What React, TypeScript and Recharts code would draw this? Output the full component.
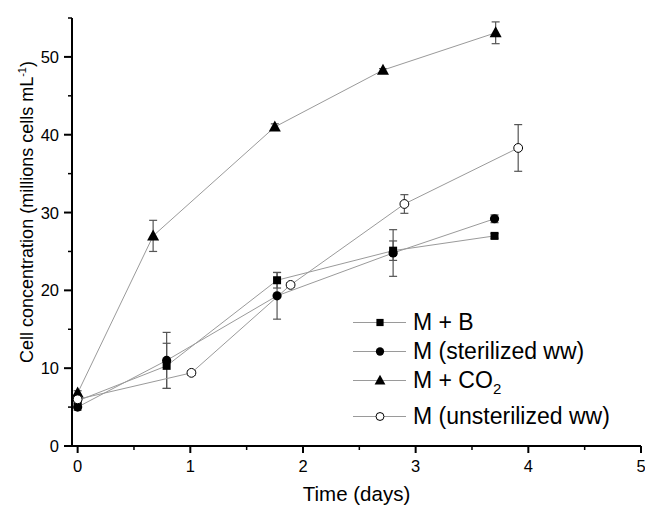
import React from 'react';
import { LineChart, Line, XAxis, YAxis, ErrorBar, Legend, Label } from 'recharts';

const FONT = '"Liberation Sans", Arial, Helvetica, sans-serif';

// ---- data ----
const seriesNames = ['M + B', 'M (sterilized ww)', 'M + CO2', 'M (unsterilized ww)'];

const mbDays = [0, 0.79, 1.77, 2.8, 3.7];
const mbCells = [5.8, 10.3, 21.3, 25.1, 27.0];
const mbErr = [0.3, 2.9, 1.0, 1.25, 0.3];

const msDays = [0, 0.79, 1.77, 2.8, 3.7];
const msCells = [5.0, 11.0, 19.3, 24.8, 29.2];
const msErr = [0.4, 3.6, 3.0, 3.0, 0.5];

const mcDays = [0, 0.67, 1.75, 2.71, 3.71];
const mcCells = [6.8, 27.0, 41.0, 48.3, 53.1];
const mcErr = [0.3, 2.0, 0.4, 0.2, 1.4];

const muDays = [0, 1.01, 1.89, 2.9, 3.91];
const muCells = [6.0, 9.4, 20.7, 31.1, 38.3];
const muErr = [0.3, 0.3, 0.3, 1.2, 3.0];

const xTicks = [0, 0.5, 1, 1.5, 2, 2.5, 3, 3.5, 4, 4.5, 5];
const xMajor = [0, 1, 2, 3, 4, 5];
const yTicks = [0, 5, 10, 15, 20, 25, 30, 35, 40, 45, 50, 55];
const yMajor = [0, 10, 20, 30, 40, 50];

const xLabel = 'Time (days)';
const yLabel = 'Cell concentration (millions cells mL';

const zip = (d: number[], c: number[], e: number[]) =>
  d.map((day, i) => ({ day, cells: c[i], err: e[i] }));

const mbData = zip(mbDays, mbCells, mbErr);
const msData = zip(msDays, msCells, msErr);
const mcData = zip(mcDays, mcCells, mcErr);
const muData = zip(muDays, muCells, muErr);

// ---- markers ----
type Kind = 'square' | 'circle' | 'triangle' | 'open';
const kinds: Kind[] = ['square', 'circle', 'triangle', 'open'];

const Marker = ({ kind, cx, cy, s = 1 }: { kind: Kind; cx: number; cy: number; s?: number }) => {
  if (kind === 'square')
    return <rect x={cx - 4 * s} y={cy - 4 * s} width={8 * s} height={8 * s} fill="#000" />;
  if (kind === 'circle') return <circle cx={cx} cy={cy} r={4.6 * s} fill="#000" />;
  if (kind === 'triangle')
    return (
      <polygon
        points={`${cx},${cy - 6.5 * s} ${cx - 6 * s},${cy + 4.5 * s} ${cx + 6 * s},${cy + 4.5 * s}`}
        fill="#000"
      />
    );
  return <circle cx={cx} cy={cy} r={4.4 * s} fill="#fff" stroke="#000" strokeWidth={1} />;
};

const makeDot = (kind: Kind) => (props: any) => {
  const { cx, cy, index } = props;
  if (cx == null || cy == null) return <g key={`d-${kind}-${index}`} />;
  return (
    <g key={`d-${kind}-${index}`}>
      <Marker kind={kind} cx={cx} cy={cy} />
    </g>
  );
};

// ---- ticks ----
const TICK_FONT = 16.5;

const XTick = (props: any) => {
  const { x, y, payload } = props;
  const v = payload.value;
  const major = xMajor.includes(v);
  return (
    <g>
      <line x1={x} x2={x} y1={y} y2={y + (major ? 7 : 4)} stroke="#000" strokeWidth={major ? 2 : 1.5} />
      {major && (
        <text x={x} y={y + 26} textAnchor="middle" fontSize={TICK_FONT} fontFamily={FONT} fill="#000">
          {v}
        </text>
      )}
    </g>
  );
};

const YTick = (props: any) => {
  const { x, y, payload } = props;
  const v = payload.value;
  const major = yMajor.includes(v);
  return (
    <g>
      <line x1={x - (major ? 8 : 4)} x2={x} y1={y} y2={y} stroke="#000" strokeWidth={major ? 2 : 1.5} />
      {major && (
        <text x={x - 13} y={y + 6} textAnchor="end" fontSize={TICK_FONT} fontFamily={FONT} fill="#000">
          {v}
        </text>
      )}
    </g>
  );
};

const XLabelContent = (props: any) => {
  const vb = props.viewBox || {};
  return (
    <text x={vb.x + vb.width / 2} y={vb.y + 55} textAnchor="middle" fontSize={20.5} fontFamily={FONT} fill="#000">
      {xLabel}
    </text>
  );
};

const YLabelContent = (props: any) => {
  const vb = props.viewBox || {};
  const cx = vb.x + 33;
  const cy = vb.y + vb.height / 2 - 20;
  return (
    <text
      x={cx}
      y={cy}
      transform={`rotate(-90, ${cx}, ${cy})`}
      textAnchor="middle"
      fontSize={18}
      fontFamily={FONT}
      fill="#000"
    >
      {yLabel}
      <tspan dy={-7} fontSize={11}>-1</tspan>
      <tspan dy={7}>)</tspan>
    </text>
  );
};

// ---- legend ----
const LegendContent = (props: any) => {
  const payload = [...(props.payload || [])].sort(
    (a: any, b: any) => seriesNames.indexOf(a.value) - seriesNames.indexOf(b.value)
  );
  return (
    <div style={{ fontFamily: FONT, fontSize: 23, color: '#000' }}>
      {payload.map((p: any) => {
        const name: string = p.value;
        const kind = kinds[seriesNames.indexOf(name)] || 'square';
        const hasSub = name.endsWith('CO2');
        return (
          <div
            key={name}
            style={{ display: 'flex', alignItems: 'flex-start', height: hasSub ? 36 : 29, whiteSpace: 'nowrap' }}
          >
            <svg width={53} height={29} style={{ flex: 'none' }}>
              <line x1={0} x2={53} y1={14.5} y2={14.5} stroke="#9a9a9a" strokeWidth={1} />
              <Marker kind={kind} cx={27} cy={14.5} s={0.9} />
            </svg>
            <span style={{ marginLeft: 7, lineHeight: '29px', height: 29 }}>
              {hasSub ? (
                <>
                  {name.slice(0, -1)}
                  <span style={{ fontSize: 15, position: 'relative', top: 6 }}>2</span>
                </>
              ) : (
                name
              )}
            </span>
          </div>
        );
      })}
    </div>
  );
};

const LINE = '#9a9a9a';
const ERR = '#555';

export default function App() {
  return (
    <div style={{ position: 'absolute', left: 0, top: 0, background: '#fff' }}>
      <LineChart width={645} height={507} margin={{ top: 18, right: 4, bottom: 0, left: 0 }}>
        <XAxis
          dataKey="day"
          type="number"
          domain={[-0.05, 5]}
          ticks={xTicks}
          allowDataOverflow
          height={61}
          tickLine={false}
          tickSize={0}
          tickMargin={0}
          tick={<XTick />}
          axisLine={{ stroke: '#000', strokeWidth: 2 }}
          interval={0}
        >
          <Label content={<XLabelContent />} />
        </XAxis>
        <YAxis
          type="number"
          domain={[0, 55]}
          ticks={yTicks}
          allowDataOverflow
          width={72}
          tickLine={false}
          tickSize={0}
          tickMargin={0}
          tick={<YTick />}
          axisLine={{ stroke: '#000', strokeWidth: 2 }}
          interval={0}
        >
          <Label content={<YLabelContent />} />
        </YAxis>
        <Legend
          layout="horizontal"
          verticalAlign="middle"
          align="center"
          content={<LegendContent />}
          wrapperStyle={{ left: 353, top: 308, width: 285, height: 130 }}
        />
        <Line
          data={mbData}
          dataKey="cells"
          name={seriesNames[0]}
          stroke={LINE}
          strokeWidth={1}
          dot={makeDot('square')}
          activeDot={false}
          isAnimationActive={false}
        >
          <ErrorBar dataKey="err" direction="y" width={4} stroke={ERR} strokeWidth={1.2} isAnimationActive={false} />
        </Line>
        <Line
          data={msData}
          dataKey="cells"
          name={seriesNames[1]}
          stroke={LINE}
          strokeWidth={1}
          dot={makeDot('circle')}
          activeDot={false}
          isAnimationActive={false}
        >
          <ErrorBar dataKey="err" direction="y" width={4} stroke={ERR} strokeWidth={1.2} isAnimationActive={false} />
        </Line>
        <Line
          data={mcData}
          dataKey="cells"
          name={seriesNames[2]}
          stroke={LINE}
          strokeWidth={1}
          dot={makeDot('triangle')}
          activeDot={false}
          isAnimationActive={false}
        >
          <ErrorBar dataKey="err" direction="y" width={4} stroke={ERR} strokeWidth={1.2} isAnimationActive={false} />
        </Line>
        <Line
          data={muData}
          dataKey="cells"
          name={seriesNames[3]}
          stroke={LINE}
          strokeWidth={1}
          dot={makeDot('open')}
          activeDot={false}
          isAnimationActive={false}
        >
          <ErrorBar dataKey="err" direction="y" width={4} stroke={ERR} strokeWidth={1.2} isAnimationActive={false} />
        </Line>
      </LineChart>
    </div>
  );
}
